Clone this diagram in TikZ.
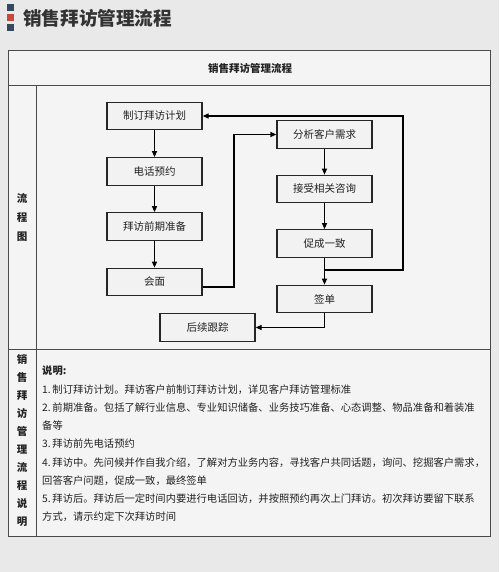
\documentclass[tikz,border=0pt]{standalone}
\usepackage{fontspec}
\setmainfont{Noto Sans CJK SC}
\usetikzlibrary{arrows.meta}
\definecolor{bgc}{HTML}{E9E9E9}
\definecolor{slate}{HTML}{34495E}
\definecolor{redsq}{HTML}{C8483C}
\definecolor{txt}{HTML}{222222}
\definecolor{gridc}{HTML}{4A4A4A}
\begin{document}
\begin{tikzpicture}[x=1pt,y=-1pt,
  box/.style={draw=black!85, line width=1.2pt, fill=bgc!60!white, minimum width=95pt, minimum height=27.5pt, inner sep=0pt, font=\fontsize{10.5}{12}\selectfont, text=txt},
  arr/.style={draw=black, line width=1.2pt, -{Triangle[length=6pt,width=5pt]}},
  ln/.style={draw=black, line width=1.2pt},
  grid/.style={draw=gridc, line width=0.9pt},
  desc/.style={anchor=west, inner sep=0pt, font=\fontsize{10.3}{12}\selectfont, text=txt},
  sq/.style={minimum size=7pt, inner sep=0pt}
]
\useasboundingbox (0,0) rectangle (499,572);
\fill[bgc] (0,0) rectangle (499,572);
% title
\node[sq, fill=slate] (s1) at (10.5,7.5) {};
\node[sq, fill=redsq] (s2) at (10.5,17.5) {};
\node[sq, fill=slate] (s3) at (10.5,27.5) {};
\node[anchor=west, inner sep=0pt, font=\fontsize{18.6}{20}\selectfont\bfseries, text=black!80] (title) at (23,18) {销售拜访管理流程};
% table
\fill[bgc!50!white] (8,50) rectangle (490,536);
\draw[grid] (8,50) rectangle (490,536);
\draw[grid] (8,85) -- (490,85);
\draw[grid] (8,349) -- (490,349);
\draw[grid] (36,85) -- (36,536);
\node[font=\fontsize{10.5}{12}\selectfont\bfseries, text=txt] (hdr) at (250,68) {销售拜访管理流程};
\node[align=center, inner sep=0pt, font=\fontsize{10.5}{19}\selectfont\bfseries, text=txt] (lab1) at (22,217) {流\\程\\图};
\node[align=center, inner sep=0pt, font=\fontsize{10.5}{18}\selectfont\bfseries, text=txt] (lab2) at (22,441) {销\\售\\拜\\访\\管\\理\\流\\程\\说\\明};
% flow boxes
\node[box] (plan) at (154.5,116) {制订拜访计划};
\node[box] (phone) at (154.5,171.5) {电话预约};
\node[box] (prep) at (154.5,226.5) {拜访前期准备};
\node[box] (meet) at (154.5,282) {会面};
\node[box] (follow) at (207.5,327.5) {后续跟踪};
\node[box] (analyze) at (324.5,134.5) {分析客户需求};
\node[box] (consult) at (324.5,189) {接受相关咨询};
\node[box] (agree) at (324.5,243.5) {促成一致};
\node[box] (sign) at (324.5,299) {签单};
\coordinate (j1) at (234,134.5);
\coordinate (j2) at (324.5,270);
\coordinate (j3) at (403,116);
\draw[arr] (plan) -- (phone);
\draw[arr] (phone) -- (prep);
\draw[arr] (prep) -- (meet);
\draw[arr] ([yshift=-5pt]meet.east) -| (j1) -- (analyze.west);
\draw[arr] (analyze) -- (consult);
\draw[arr] (consult) -- (agree);
\draw[arr] (agree) -- (sign);
\draw[arr] (j2) -| (j3) -- (plan.east);
\draw[arr] (sign.south) |- (follow.east);
% description
\node[desc, font=\fontsize{10.3}{12}\selectfont\bfseries] (d0) at (42,371) {说明:};
\node[desc] (d1) at (42,389.25) {1.\,制订拜访计划。拜访客户前制订拜访计划，详见客户拜访管理标准};
\node[desc] (d2) at (42,407.5) {2.\,前期准备。包括了解行业信息、专业知识储备、业务技巧准备、心态调整、物品准备和着装准};
\node[desc] (d3) at (42,425.75) {备等};
\node[desc] (d4) at (42,444) {3.\,拜访前先电话预约};
\node[desc] (d5) at (42,462.25) {4.\,拜访中。先问候并作自我介绍，了解对方业务内容，寻找客户共同话题，询问、挖掘客户需求，};
\node[desc] (d6) at (42,480.5) {回答客户问题，促成一致，最终签单};
\node[desc] (d7) at (42,498.75) {5.\,拜访后。拜访后一定时间内要进行电话回访，并按照预约再次上门拜访。初次拜访要留下联系};
\node[desc] (d8) at (42,517) {方式，请示约定下次拜访时间};
\end{tikzpicture}
\end{document}
